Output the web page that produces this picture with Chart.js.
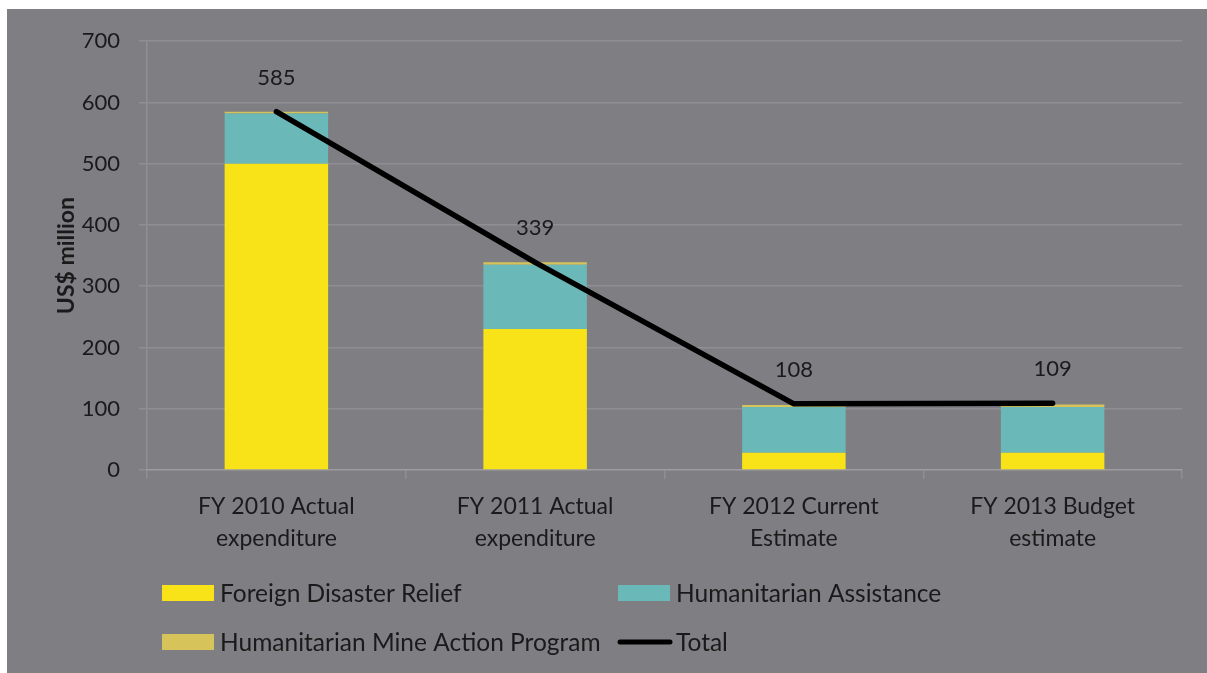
<!DOCTYPE html>
<html>
<head>
<meta charset="utf-8">
<script src="https://cdn.jsdelivr.net/npm/chart.js@4.4.1/dist/chart.umd.min.js"></script>
<style>
    html, body { margin: 0; padding: 0; background: #ffffff; }
    #wrap {
        position: absolute;
        left: 7px;
        top: 9px;
        width: 1200px;
        height: 664px;
        background: #7f7e83;
    }
</style>
</head>
<body>
<div id="wrap"><canvas id="chart"></canvas></div>
<script>
// Données (US$ million)
const categories = [
    ['FY 2010 Actual', 'expenditure'],
    ['FY 2011 Actual', 'expenditure'],
    ['FY 2012 Current', 'Estimate'],
    ['FY 2013 Budget', 'estimate']
];
const foreignDisasterRelief = [500, 230, 28, 28];
const humanitarianAssistance = [82, 105, 75, 75];
const mineActionProgram = [3, 4, 3, 4];
const totals = [585, 339, 108, 109];
const yTicks = [0, 100, 200, 300, 400, 500, 600, 700];

const FONT = 'Lato, "Open Sans", sans-serif';
const TEXT = '#1a1a1a';
const GRID = 'rgba(255, 255, 255, 0.13)';

// Étiquettes des totaux au-dessus de la courbe
const totalLabels = {
    id: 'totalLabels',
    afterDatasetsDraw(chart) {
        const ctx = chart.ctx;
        const idx = chart.data.datasets.findIndex(d => d.type === 'line');
        const meta = chart.getDatasetMeta(idx);
        ctx.save();
        ctx.font = '22px ' + FONT;
        ctx.fillStyle = TEXT;
        ctx.textAlign = 'center';
        ctx.textBaseline = 'middle';
        meta.data.forEach((pt, i) => {
            ctx.fillText(String(totals[i]), pt.x, pt.y - 34);
        });
        ctx.restore();
    }
};

// Légende sur deux colonnes
const gridLegend = {
    id: 'gridLegend',
    afterDraw(chart) {
        const ctx = chart.ctx;
        const cols = [155, 611];
        const rows = [584, 633];
        ctx.save();
        ctx.font = '24.5px ' + FONT;
        ctx.textBaseline = 'middle';
        chart.data.datasets.forEach((ds, k) => {
            const x = cols[k % 2];
            const y = rows[Math.floor(k / 2)];
            if (ds.type === 'line') {
                ctx.strokeStyle = ds.borderColor;
                ctx.lineWidth = 5;
                ctx.lineCap = 'round';
                ctx.beginPath();
                ctx.moveTo(x + 2, y);
                ctx.lineTo(x + 52, y);
                ctx.stroke();
            } else {
                ctx.fillStyle = ds.backgroundColor;
                ctx.fillRect(x, y - 8, 52, 16);
            }
            ctx.fillStyle = TEXT;
            ctx.fillText(ds.label, x + 58, y + 1);
        });
        ctx.restore();
    }
};

const config = {
    type: 'bar',
    data: {
        labels: categories,
        datasets: [
            {
                label: 'Foreign Disaster Relief',
                data: foreignDisasterRelief,
                backgroundColor: '#f8e318',
                stack: 'bars',
                order: 1,
                barPercentage: 0.8,
                categoryPercentage: 0.5
            },
            {
                label: 'Humanitarian Assistance',
                data: humanitarianAssistance,
                backgroundColor: '#6ab8b8',
                stack: 'bars',
                order: 1,
                barPercentage: 0.8,
                categoryPercentage: 0.5
            },
            {
                label: 'Humanitarian Mine Action Program',
                data: mineActionProgram,
                backgroundColor: '#d6c35a',
                stack: 'bars',
                order: 1,
                barPercentage: 0.8,
                categoryPercentage: 0.5
            },
            {
                type: 'line',
                label: 'Total',
                data: totals,
                borderColor: '#000000',
                backgroundColor: '#000000',
                borderWidth: 5.5,
                borderCapStyle: 'round',
                borderJoinStyle: 'round',
                pointRadius: 0,
                stack: 'total',
                order: 0,
                tension: 0
            }
        ]
    },
    options: {
        responsive: true,
        maintainAspectRatio: false,
        animation: false,
        layout: {
            padding: { top: 31, right: 25, bottom: 113, left: 0 }
        },
        plugins: {
            legend: { display: false },
            tooltip: { enabled: false }
        },
        scales: {
            x: {
                stacked: true,
                afterFit(scale) { scale.height = 90; },
                grid: {
                    offset: true,
                    drawOnChartArea: false,
                    drawTicks: true,
                    tickLength: 9,
                    color: GRID,
                    lineWidth: 1.5
                },
                border: { color: GRID, width: 1.5 },
                ticks: {
                    color: TEXT,
                    padding: 11,
                    maxRotation: 0,
                    font: { family: FONT, size: 23, lineHeight: 1.4 }
                }
            },
            y: {
                stacked: true,
                min: 0,
                max: 700,
                afterFit(scale) { scale.width = 140; },
                afterBuildTicks(scale) {
                    scale.ticks = yTicks.map(v => ({ value: v }));
                },
                grid: {
                    color: GRID,
                    lineWidth: 1.5,
                    drawTicks: true,
                    tickLength: 8
                },
                border: { color: GRID, width: 1.5 },
                ticks: {
                    color: TEXT,
                    padding: 19,
                    font: { family: FONT, size: 22 }
                },
                title: {
                    display: true,
                    text: 'US$ million',
                    color: TEXT,
                    padding: { top: 46, bottom: 0 },
                    font: { family: FONT, size: 23, weight: 'bold' }
                }
            }
        }
    },
    plugins: [totalLabels, gridLegend]
};

new Chart(document.getElementById('chart'), config);
</script>
</body>
</html>
